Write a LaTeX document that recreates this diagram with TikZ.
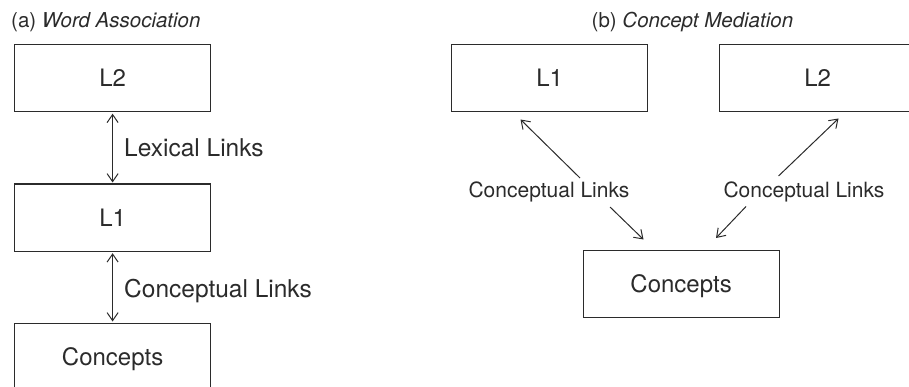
\documentclass[tikz,border=0pt]{standalone}
\usepackage{fontspec}
\setmainfont{TeX Gyre Heros}
\usetikzlibrary{arrows.meta}
\definecolor{ink}{HTML}{2B2B2B}
\begin{document}
\begin{tikzpicture}[x=1pt,y=-1pt,
  box/.style={draw=ink, line width=1.2pt, minimum width=196pt, minimum height=67pt,
    inner sep=0pt, text=ink, font=\fontsize{24}{28}\selectfont,
    text height=17pt, text depth=0pt, anchor=north west},
  lbla/.style={text=ink, inner sep=0pt, anchor=base west, font=\fontsize{24.5}{28}\selectfont},
  lblb/.style={text=ink, inner sep=0pt, anchor=base, font=\fontsize{21}{25}\selectfont},
  ttl/.style={text=ink, inner sep=0pt, anchor=base west, font=\fontsize{20.5}{24}\selectfont},
  link/.style={draw=ink, line width=1pt,
    {Straight Barb[length=8pt,width=11pt]}-{Straight Barb[length=8pt,width=11pt]}},
  onearrow/.style={draw=ink, line width=1pt, -{Straight Barb[length=8pt,width=11pt]}}]
\useasboundingbox (0,0) rectangle (909,387);
\clip (0,0) rectangle (909,387);
% panel (a)
\node[ttl] (ta) at (11,28) {(a) \textit{Word Association}};
\node[box] (a2) at (14,44) {L2};
\node[box] (a1) at (14,183.5) {L1};
\node[box] (ac) at (14,322.5) {Concepts};
\draw[link, shorten <=1.5pt, shorten >=1pt] (a2.south) -- (a1.north);
\draw[link, shorten <=1.5pt, shorten >=1pt] (a1.south) -- (ac.north);
\node[lbla] (lx) at (124,156.5) {Lexical Links};
\node[lbla] (lc) at (124,297) {Conceptual Links};
% panel (b)
\node[ttl] (tb) at (591.5,28) {(b) \textit{Concept Mediation}};
\node[box] (b1) at (451,44) {L1};
\node[box] (b2) at (719,44) {L2};
\node[box] (bc) at (582.5,250) {Concepts};
\node[lblb] (cl1) at (549,198) {Conceptual Links};
\node[lblb] (cl2) at (804,198) {Conceptual Links};
\coordinate (p1s) at (580,178);
\coordinate (p1t) at (520.5,119.5);
\coordinate (p2s) at (778.5,176);
\coordinate (p2t) at (838.5,118.5);
\coordinate (q1s) at (610,207);
\coordinate (q1t) at (643.5,239.5);
\coordinate (q2s) at (746,206.5);
\coordinate (q2t) at (716,238);
\draw[onearrow] (p1s) -- (p1t);
\draw[onearrow] (p2s) -- (p2t);
\draw[onearrow] (q1s) -- (q1t);
\draw[onearrow] (q2s) -- (q2t);
\end{tikzpicture}
\end{document}
